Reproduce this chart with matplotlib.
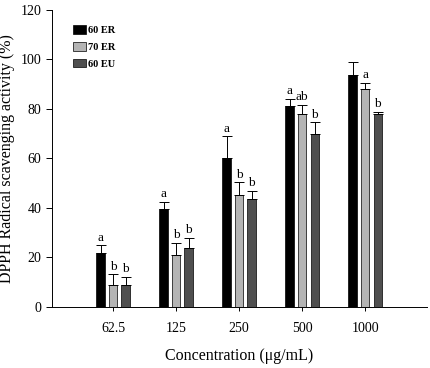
import matplotlib.pyplot as plt
import numpy as np

plt.rcParams['font.family'] = ['Liberation Serif', 'DejaVu Serif']

conc = ['62.5', '125', '250', '500', '1000']
er60 = [21.8, 39.6, 60.0, 81.2, 93.7]
er60_err = [3.2, 2.8, 9.0, 3.0, 5.3]
er70 = [8.9, 21.0, 45.3, 78.0, 88.0]
er70_err = [4.2, 4.9, 5.0, 3.6, 2.5]
eu60 = [8.9, 23.8, 43.6, 69.9, 78.0]
eu60_err = [3.3, 4.1, 3.3, 4.8, 0.8]
letters_er60 = ['a', 'a', 'a', 'a', '']
letters_er70 = ['b', 'b', 'b', 'ab', 'a']
letters_eu60 = ['b', 'b', 'b', 'b', 'b']

series = [('60 ER', er60, er60_err, letters_er60, '#000000'),
          ('70 ER', er70, er70_err, letters_er70, '#b4b4b4'),
          ('60 EU', eu60, eu60_err, letters_eu60, '#4f4f4f')]

fig = plt.figure(figsize=(4.31, 3.68), dpi=100)
ax = fig.add_axes([0.1206, 0.166, 0.87, 0.807])

x = np.arange(len(conc))
w = 0.135
step = 0.2
for i, (name, vals, errs, lets, col) in enumerate(series):
    xs = x + (i - 1) * step
    ax.bar(xs, vals, w, color=col, edgecolor='black', linewidth=0.5, label=name)
    ax.errorbar(xs, vals, yerr=[np.zeros(len(vals)), errs], fmt='none',
                ecolor='black', elinewidth=0.7, capsize=3.5, capthick=0.7)
    for xi, v, e, t in zip(xs, vals, errs, lets):
        if t:
            ax.text(xi, v + e + 0.6, t, ha='center', va='bottom', fontsize=9.5)

ax.set_xlim(-0.97, 4.98)
ax.set_ylim(0, 120)
ax.set_yticks(range(0, 121, 20))
ax.set_xticks(x)
ax.set_xticklabels(conc)
ax.spines['top'].set_visible(False)
ax.spines['right'].set_visible(False)
ax.spines['left'].set_linewidth(0.7)
ax.spines['bottom'].set_linewidth(0.7)
ax.tick_params(axis='both', labelsize=10, width=0.7, length=4)
ax.tick_params(axis='x', length=3, pad=8)
ax.set_ylabel('DPPH Radical scavenging activity (%)', fontsize=11.5, labelpad=4)
ax.set_xlabel('Concentration (μg/mL)', fontsize=11.5, labelpad=9)

leg = ax.legend(loc='upper left', bbox_to_anchor=(0.03, 0.98), frameon=False,
                prop={'weight': 'bold', 'size': 7.5}, handlelength=1.3,
                handleheight=0.9, handletextpad=0.2, labelspacing=0.65)

fig.savefig('out.png', dpi=100)
